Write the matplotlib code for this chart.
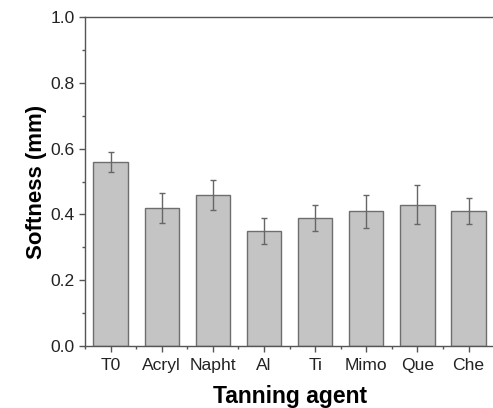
import numpy as np
import matplotlib.pyplot as plt
from matplotlib.ticker import MultipleLocator

plt.rcParams['font.family'] = ['Liberation Sans', 'DejaVu Sans']

# data
agents = ['T0', 'Acryl', 'Napht', 'Al', 'Ti', 'Mimo', 'Que', 'Che']
softness = [0.56, 0.42, 0.46, 0.35, 0.39, 0.41, 0.43, 0.41]
softness_err = [0.03, 0.045, 0.046, 0.04, 0.04, 0.05, 0.06, 0.04]

fig = plt.figure(figsize=(4.93, 4.08), dpi=100)
ax = fig.add_axes([0.1724, 0.152, 0.83, 0.806])

x = np.arange(len(agents))
ax.bar(x, softness, width=0.67, color='#c4c4c4', edgecolor='#6e6e6e', linewidth=1.0,
       yerr=softness_err, error_kw=dict(ecolor='#666666', elinewidth=1.0, capsize=2.5, capthick=1.0))

ax.set_xlim(-0.5, 7.5)
ax.set_ylim(0, 1.0)
ax.set_xticks(x)
ax.set_xticklabels(agents)
ax.xaxis.set_minor_locator(MultipleLocator(0.5))
ax.yaxis.set_major_locator(MultipleLocator(0.2))
ax.yaxis.set_minor_locator(MultipleLocator(0.1))
ax.yaxis.set_major_formatter(plt.FormatStrFormatter('%.1f'))

ax.spines['right'].set_visible(False)
for s in ['left', 'bottom', 'top']:
    ax.spines[s].set_color('#555555')
    ax.spines[s].set_linewidth(1.0)

ax.tick_params(which='major', direction='out', length=4.5, width=1, color='#555555',
               labelsize=12.6, labelcolor='#222222', pad=3)
ax.tick_params(axis='x', which='major', pad=4.5)
ax.tick_params(which='minor', direction='out', length=2.5, width=1, color='#555555')
ax.tick_params(axis='x', which='minor', bottom=True)

ax.set_xlabel('Tanning agent', fontsize=16.5, fontweight='bold', labelpad=8)
ax.set_ylabel('Softness (mm)', fontsize=16, fontweight='bold', labelpad=2.5)

fig.savefig('out.png', dpi=100)
